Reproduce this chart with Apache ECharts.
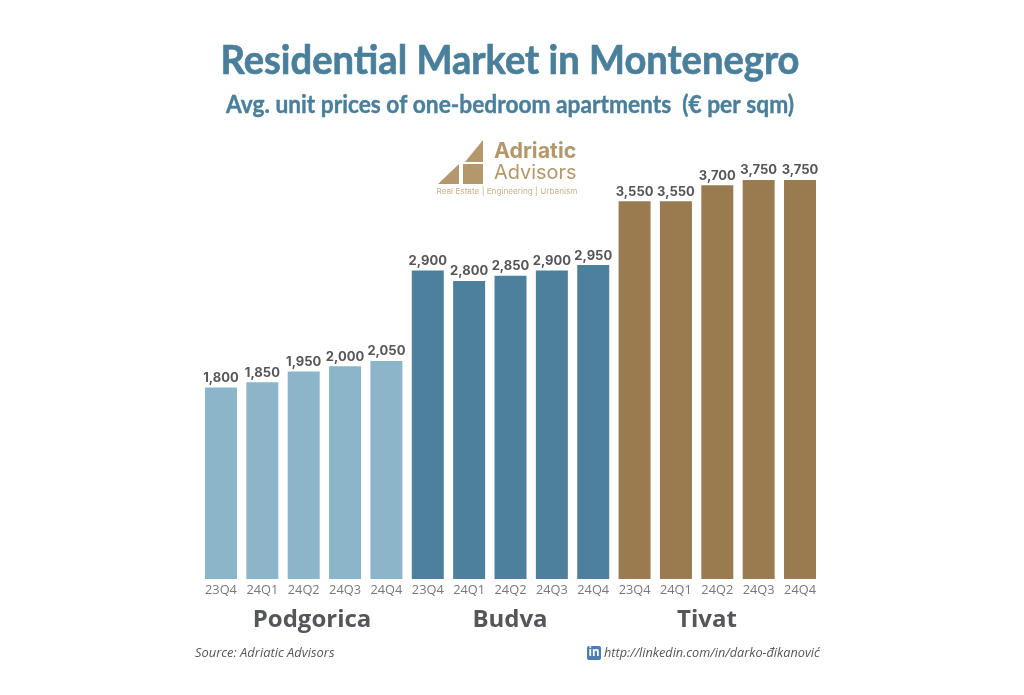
<!DOCTYPE html>
<html><head><meta charset="utf-8">
<style>html,body{margin:0;padding:0;background:#fff}#c{width:1024px;height:695px}</style>
<script src="https://cdn.jsdelivr.net/npm/echarts@6/dist/echarts.min.js"></script>
</head><body><div id="c"></div>
<script>
const quarters = ['23Q4','24Q1','24Q2','24Q3','24Q4'];
const podgorica = [1800,1850,1950,2000,2050];
const budva = [2900,2800,2850,2900,2950];
const tivat = [3550,3550,3700,3750,3750];
const cities = ['Podgorica','Budva','Tivat'];
const cityColors = ['#8bb6ca','#4d809c','#9a7b50'];
const gold = '#b4976a';

const groups = [podgorica,budva,tivat];
const categories = groups.flatMap(()=>quarters);
const barData = groups.flatMap((g,i)=>g.map(v=>({value:v,itemStyle:{color:cityColors[i]}})));
const cityX = [312,510,707];

const chart = echarts.init(document.getElementById('c'),null,{renderer:'canvas'});
chart.setOption({
  backgroundColor:'#ffffff',
  animation:false,
  grid:{left:200.3,right:203.3,top:180,bottom:116,containLabel:false},
  xAxis:{type:'category',data:categories,axisLine:{show:false},axisTick:{show:false},
    axisLabel:{interval:0,color:'#77787a',fontFamily:'Open Sans',fontSize:12.8,margin:5}},
  yAxis:{type:'value',min:0,max:3750,show:false,splitLine:{show:false}},
  series:[{type:'bar',data:barData,barWidth:32,
    label:{show:true,position:'top',distance:3,color:'#55565a',fontFamily:'Inter',fontWeight:'bold',fontSize:13,
      formatter:p=>p.value.toLocaleString('en-US')}}],
  graphic:[
    {type:'text',x:510,y:61,scaleX:0.93,style:{text:'Residential Market in Montenegro',fontFamily:'Lato',fontWeight:'bold',fontSize:41,fill:'#4a7f9c',stroke:'#4a7f9c',lineWidth:0.7,align:'center',verticalAlign:'middle'}},
    {type:'text',x:510,y:105,scaleX:0.955,style:{text:'Avg. unit prices of one-bedroom apartments  (€ per sqm)',fontFamily:'Lato',fontWeight:'bold',fontSize:23.8,fill:'#4a7f9c',stroke:'#4a7f9c',lineWidth:0.4,align:'center',verticalAlign:'middle'}},
    {type:'polygon',shape:{points:[[465,162],[483,140],[483,162]]},style:{fill:gold}},
    {type:'polygon',shape:{points:[[438,184],[459,164],[459,184]]},style:{fill:gold}},
    {type:'rect',shape:{x:463,y:164,width:20,height:20},style:{fill:gold}},
    {type:'text',x:494,y:152,style:{text:'Adriatic',fontFamily:'Inter',fontWeight:'bold',fontSize:21.4,fill:gold,verticalAlign:'middle'}},
    {type:'text',x:494,y:173,style:{text:'Advisors',fontFamily:'Inter',fontSize:19.9,fill:gold,verticalAlign:'middle'}},
    {type:'text',x:507,y:192,style:{text:'Real Estate | Engineering | Urbanism',fontFamily:'Inter',fontSize:8.2,fill:'#c9b18c',align:'center',verticalAlign:'middle'}},
    ...cities.map((c,i)=>({type:'text',x:cityX[i],y:620,style:{text:c,fontFamily:'Open Sans',fontWeight:'bold',fontSize:24,fill:'#55565a',align:'center',verticalAlign:'middle'}})),
    {type:'text',x:195,y:653,style:{text:'Source: Adriatic Advisors',fontFamily:'Open Sans',fontStyle:'italic',fontSize:12.9,fill:'#55565a',verticalAlign:'middle'}},
    {type:'rect',shape:{x:587,y:646,width:14,height:14,r:2},style:{fill:'#4a7db5'}},
    {type:'text',x:594,y:653,style:{text:'in',fontFamily:'Open Sans',fontWeight:'bold',fontSize:11.5,fill:'#fff',align:'center',verticalAlign:'middle'}},
    {type:'text',x:604,y:653,style:{text:'http://linkedin.com/in/darko-đikanović',fontFamily:'Open Sans',fontStyle:'italic',fontSize:12.7,fill:'#55565a',verticalAlign:'middle'}}
  ]
});
</script></body></html>
